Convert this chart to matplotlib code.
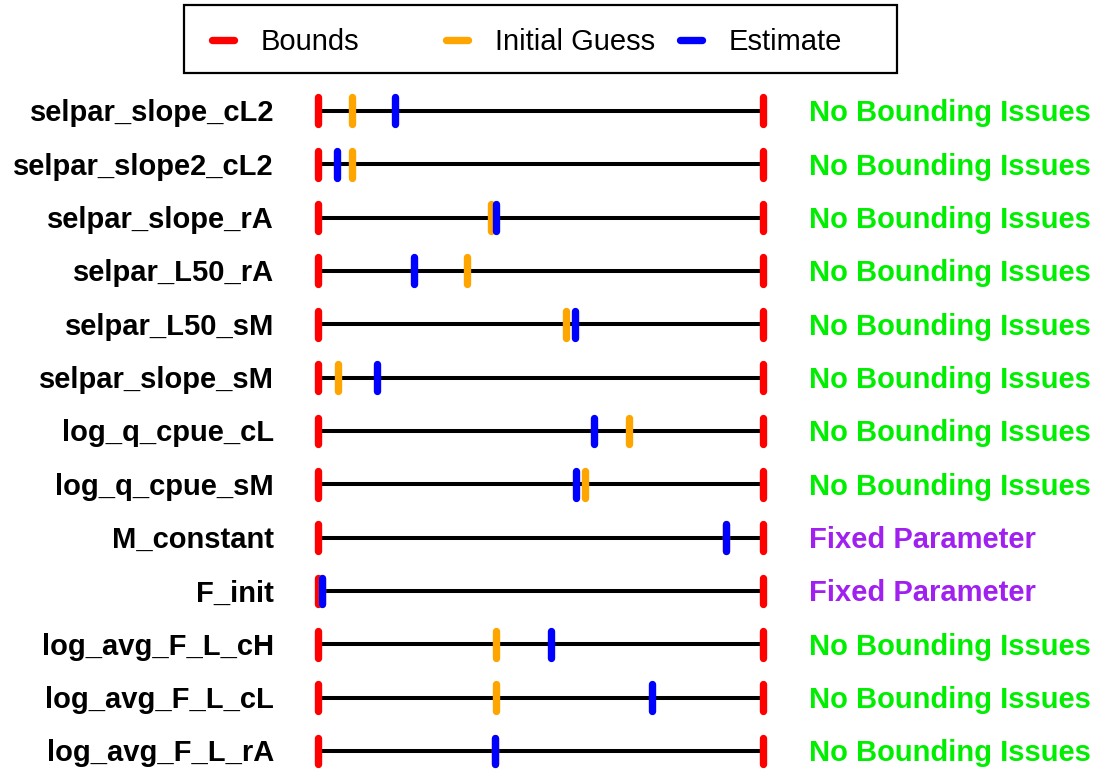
import matplotlib
matplotlib.use("Agg")
import matplotlib.pyplot as plt
from matplotlib.lines import Line2D
from matplotlib.patches import Rectangle
import matplotlib.transforms as mtransforms

plt.rcParams['font.family'] = ['Liberation Sans', 'DejaVu Sans']

# parameter positions, scaled between lower bound (0) and upper bound (1)
params = ["selpar_slope_cL2", "selpar_slope2_cL2", "selpar_slope_rA", "selpar_L50_rA",
          "selpar_L50_sM", "selpar_slope_sM", "log_q_cpue_cL", "log_q_cpue_sM",
          "M_constant", "F_init", "log_avg_F_L_cH", "log_avg_F_L_cL", "log_avg_F_L_rA"]
initial = [0.076, 0.076, 0.389, 0.335, 0.557, 0.045, 0.699, 0.600,
           0.917, 0.009, 0.400, 0.400, 0.398]
estimate = [0.173, 0.043, 0.400, 0.216, 0.578, 0.133, 0.620, 0.580,
            0.917, 0.009, 0.524, 0.751, 0.398]
status = ["No Bounding Issues"] * 8 + ["Fixed Parameter"] * 2 + ["No Bounding Issues"] * 3
status_colors = {"No Bounding Issues": "#00ee00", "Fixed Parameter": "#a020f0"}

fig = plt.figure(figsize=(11.06, 7.71), dpi=100)
ax = fig.add_axes([318 / 1106, 0, 445 / 1106, 1])
ax.set_xlim(0, 1)
ax.set_ylim(12.375, -2.081)
ax.axis("off")

rows = list(range(len(params)))
h = 0.253
lw_mark = 5.3
lo = [r - h for r in rows]
hi = [r + h for r in rows]

ax.hlines(rows, 0, 1, color="black", lw=2.9, zorder=1, clip_on=False)
ax.vlines([0] * len(rows), lo, hi, color="#ff0000", lw=lw_mark, capstyle="round", zorder=2, clip_on=False)
ax.vlines([1] * len(rows), lo, hi, color="#ff0000", lw=lw_mark, capstyle="round", zorder=2, clip_on=False)
ax.vlines(initial, lo, hi, color="#ffa500", lw=lw_mark, capstyle="round", zorder=3, clip_on=False)
ax.vlines(estimate, lo, hi, color="#0000ff", lw=lw_mark, capstyle="round", zorder=4, clip_on=False)

left = mtransforms.offset_copy(ax.transData, fig=fig, x=-44 * 0.72, y=-2.5 * 0.72, units="points")
right = mtransforms.offset_copy(ax.transData, fig=fig, x=46 * 0.72, y=-2.5 * 0.72, units="points")
for r, name, st in zip(rows, params, status):
    ax.text(0, r, name, transform=left, ha="right", va="center",
            fontsize=21, fontweight="bold", clip_on=False)
    ax.text(1, r, st, transform=right, ha="left", va="center",
            fontsize=21, fontweight="bold", color=status_colors[st], clip_on=False)

# legend drawn by hand to get the equal-width columns
W, H = 1106, 771
fig.patches.append(Rectangle((184 / W, 1 - 73 / H), (897 - 184) / W, (73 - 5) / H,
                             transform=fig.transFigure, fill=False, ec="black", lw=1.6))
legend_items = [("Bounds", "#ff0000", 208), ("Initial Guess", "#ffa500", 442), ("Estimate", "#0000ff", 676)]
ly = 1 - 40 / H
for label, col, x0 in legend_items:
    fig.add_artist(Line2D([(x0 + 4) / W, (x0 + 26) / W], [ly, ly], transform=fig.transFigure,
                          color=col, lw=lw_mark, solid_capstyle="round"))
    fig.text((x0 + 53) / W, ly - 2.5 / H, label, ha="left", va="center", fontsize=21)

fig.savefig("out.png", dpi=100)
